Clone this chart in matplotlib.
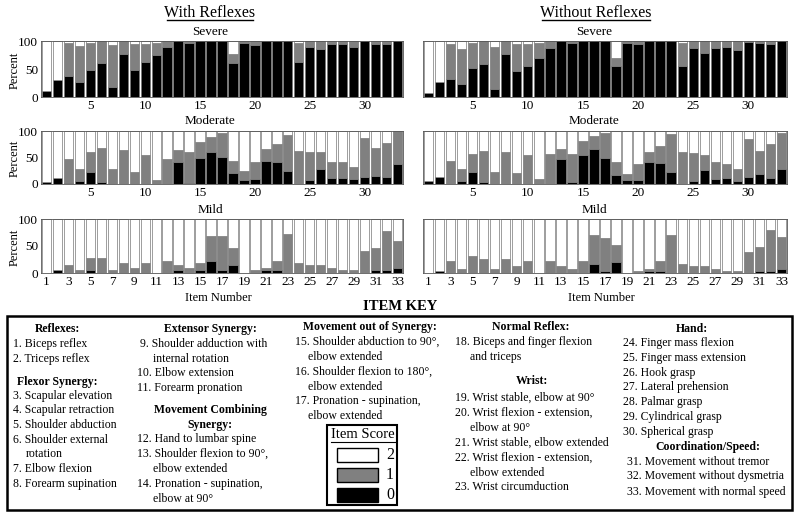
import numpy as np
import matplotlib.pyplot as plt
from matplotlib.patches import Rectangle
from matplotlib.lines import Line2D

plt.rcParams['font.family'] = ['Liberation Serif', 'DejaVu Serif']

items = np.arange(1, 34)

# percent of subjects scoring 0 (black) and 1 (gray); score 2 (white) is the rest
sev_with_0 = [11, 30, 37, 26, 49, 60, 17, 77, 49, 63, 75, 90, 100, 96, 100, 100, 100,
              61, 96, 92, 100, 100, 100, 63, 90, 86, 95, 95, 90, 100, 95, 94, 100]
sev_with_1 = [0, 0, 59, 65, 48, 40, 75, 23, 46, 32, 22, 10, 0, 4, 0, 0, 0,
              16, 4, 8, 0, 0, 0, 34, 10, 14, 5, 5, 10, 0, 5, 6, 0]
sev_wo_0 = [8, 26, 32, 23, 52, 59, 15, 77, 46, 55, 70, 87, 100, 96, 100, 100, 100,
            55, 96, 94, 100, 100, 100, 55, 88, 78, 88, 89, 84, 98, 97, 94, 100]
sev_wo_1 = [0, 0, 63, 62, 45, 41, 75, 23, 49, 40, 27, 13, 0, 4, 0, 0, 0,
            14, 4, 6, 0, 0, 0, 42, 12, 22, 12, 11, 16, 2, 3, 6, 0]

mod_with_0 = [4, 11, 1, 5, 22, 3, 0, 0, 0, 0, 0, 0, 42, 2, 50, 61, 51,
              20, 7, 9, 44, 42, 25, 0, 7, 28, 11, 11, 9, 14, 16, 14, 37]
mod_with_1 = [0, 0, 46, 24, 38, 64, 28, 64, 22, 54, 8, 48, 23, 58, 29, 27, 45,
              24, 17, 32, 22, 34, 67, 62, 53, 32, 31, 30, 23, 72, 51, 63, 63]
mod_wo_0 = [5, 14, 0, 5, 23, 3, 0, 0, 0, 0, 0, 0, 47, 3, 54, 66, 50,
            17, 8, 7, 42, 39, 23, 0, 5, 27, 10, 12, 5, 14, 18, 12, 29]
mod_wo_1 = [0, 0, 43, 24, 34, 60, 23, 61, 21, 55, 9, 57, 19, 54, 27, 24, 46,
            25, 10, 30, 19, 33, 71, 61, 54, 27, 31, 25, 23, 71, 45, 63, 67]

mild_with_0 = [0, 5, 0, 0, 5, 0, 0, 0, 0, 0, 0, 0, 5, 0, 5, 23, 5,
               14, 0, 0, 5, 5, 0, 0, 0, 0, 0, 0, 0, 0, 5, 5, 9]
mild_with_1 = [0, 0, 14, 5, 23, 28, 5, 19, 10, 19, 0, 23, 9, 10, 14, 45, 63,
               32, 0, 5, 5, 18, 73, 19, 14, 14, 10, 5, 5, 41, 41, 73, 51]
mild_wo_0 = [0, 4, 0, 0, 0, 0, 0, 0, 0, 0, 0, 0, 0, 0, 0, 17, 4,
             21, 0, 0, 4, 4, 0, 0, 0, 0, 0, 0, 0, 0, 4, 4, 8]
mild_wo_1 = [0, 0, 22, 8, 31, 26, 8, 26, 13, 22, 0, 22, 13, 8, 22, 53, 61,
             31, 0, 4, 4, 18, 70, 17, 13, 13, 8, 4, 4, 39, 44, 75, 58]

W, H = 800, 522
fig = plt.figure(figsize=(W / 100, H / 100), dpi=100)


def px(x, y):
    return x / W, 1 - y / H


def panel(left, top, right, bottom, s0, s1, ticks, ylabels):
    ax = fig.add_axes([left / W, 1 - bottom / H, (right - left) / W, (bottom - top) / H])
    s0 = np.array(s0, float)
    s1 = np.array(s1, float)
    s2 = 100 - s0 - s1
    kw = dict(width=0.85, edgecolor='#777777', linewidth=0.5)
    ax.bar(items, s0, color='black', **kw)
    ax.bar(items, s1, bottom=s0, color='#808080', **kw)
    ax.bar(items, s2, bottom=s0 + s1, color='white', **kw)
    ax.set_xlim(0.5, 33.5)
    ax.set_ylim(0, 100)
    ax.set_xticks(ticks)
    ax.set_yticks([0, 50, 100])
    ax.tick_params(length=0, labelsize=9.5, pad=2)
    if not ylabels:
        ax.set_yticklabels([])
    for sp in ax.spines.values():
        sp.set_linewidth(0.6)
        sp.set_color('#555555')
    return ax


top_ticks = [5, 10, 15, 20, 25, 30]
bot_ticks = list(range(1, 34, 2))

panel(41, 41, 403, 97, sev_with_0, sev_with_1, top_ticks, True)
panel(423, 41, 787, 97, sev_wo_0, sev_wo_1, top_ticks, False)
panel(41, 131, 403, 184, mod_with_0, mod_with_1, top_ticks, True)
panel(423, 131, 787, 184, mod_wo_0, mod_wo_1, top_ticks, False)
panel(41, 219, 403, 273, mild_with_0, mild_with_1, bot_ticks, True)
panel(423, 219, 787, 273, mild_wo_0, mild_wo_1, bot_ticks, False)

# column headings with underline
fig.text(*px(210, 13), 'With Reflexes', ha='center', va='center', fontsize=11.5)
fig.text(*px(596, 13), 'Without Reflexes', ha='center', va='center', fontsize=11.5)
for x0, x1 in [(167, 253), (542, 650)]:
    fig.add_artist(Line2D([x0 / W, x1 / W], [1 - 20 / H] * 2, color='black', lw=1))

for cx in [210, 594]:
    fig.text(*px(cx, 32), 'Severe', ha='center', va='center', fontsize=9.5)
    fig.text(*px(cx, 121), 'Moderate', ha='center', va='center', fontsize=9.5)
    fig.text(*px(cx, 210), 'Mild', ha='center', va='center', fontsize=9.5)
for y in [70, 158, 247]:
    fig.text(*px(15, y), 'Percent', ha='center', va='center', rotation=90, fontsize=9)
fig.text(*px(218, 298), 'Item Number', ha='center', va='center', fontsize=9)
fig.text(*px(601, 298), 'Item Number', ha='center', va='center', fontsize=9)

# item key
fig.text(*px(400, 307), 'ITEM KEY', ha='center', va='center', fontsize=10.5, fontweight='bold')
fig.add_artist(Rectangle(px(7, 510), 785 / W, 194 / H, transform=fig.transFigure,
                         fill=False, edgecolor='black', linewidth=1.8))

fs = 8.5
heads = [
    (57, 329, 'Reflexes:'), (57, 382, 'Flexor Synergy:'),
    (210, 329, 'Extensor Synergy:'), (210, 410, 'Movement Combining'), (210, 425, 'Synergy:'),
    (370, 327, 'Movement out of Synergy:'),
    (531, 327, 'Normal Reflex:'), (532, 381, 'Wrist:'),
    (692, 329, 'Hand:'), (708, 447, 'Coordination/Speed:'),
]
for x, y, t in heads:
    fig.text(*px(x, y), t, ha='center', va='center', fontsize=fs, fontweight='bold')

lines = [
    (13, 344, '1. Biceps reflex'), (13, 359, '2. Triceps reflex'),
    (13, 396, '3. Scapular elevation'), (13, 410, '4. Scapular retraction'),
    (13, 425, '5. Shoulder abduction'), (13, 440, '6. Shoulder external'),
    (26, 454, 'rotation'), (13, 469, '7. Elbow flexion'), (13, 484, '8. Forearm supination'),
    (140, 344, '9. Shoulder adduction with'), (153, 359, 'internal rotation'),
    (137, 373, '10. Elbow extension'), (137, 388, '11. Forearm pronation'),
    (137, 439, '12. Hand to lumbar spine'), (137, 454, '13. Shoulder flexion to 90°,'),
    (153, 469, 'elbow extended'), (137, 484, '14. Pronation - supination,'),
    (153, 499, 'elbow at 90°'),
    (295, 342, '15. Shoulder abduction to 90°,'), (308, 357, 'elbow extended'),
    (295, 372, '16. Shoulder flexion to 180°,'), (308, 387, 'elbow extended'),
    (295, 401, '17. Pronation - supination,'), (308, 416, 'elbow extended'),
    (455, 342, '18. Biceps and finger flexion'), (470, 357, 'and triceps'),
    (455, 398, '19. Wrist stable, elbow at 90°'), (455, 413, '20. Wrist flexion - extension,'),
    (470, 428, 'elbow at 90°'), (455, 443, '21. Wrist stable, elbow extended'),
    (455, 458, '22. Wrist flexion - extension,'), (470, 473, 'elbow extended'),
    (455, 487, '23. Wrist circumduction'),
    (623, 343, '24. Finger mass flexion'), (623, 358, '25. Finger mass extension'),
    (623, 373, '26. Hook grasp'), (623, 387, '27. Lateral prehension'),
    (623, 402, '28. Palmar grasp'), (623, 417, '29. Cylindrical grasp'),
    (623, 432, '30. Spherical grasp'),
    (627, 462, '31. Movement without tremor'), (627, 476, '32. Movement without dysmetria'),
    (627, 492, '33. Movement with normal speed'),
]
for x, y, t in lines:
    fig.text(*px(x, y), t, ha='left', va='center', fontsize=fs)

# item score legend
fig.add_artist(Rectangle(px(327, 505), 70 / W, 80 / H, transform=fig.transFigure,
                         fill=False, edgecolor='black', linewidth=1.5))
fig.text(*px(363, 435), 'Item Score', ha='center', va='center', fontsize=10.5)
fig.add_artist(Line2D([331 / W, 395 / W], [1 - 442 / H] * 2, color='black', lw=0.8))
for y, c, lab in [(448, 'white', '2'), (468, '#808080', '1'), (488, 'black', '0')]:
    fig.add_artist(Rectangle(px(337, y + 14), 41 / W, 14 / H, transform=fig.transFigure,
                             facecolor=c, edgecolor='black', linewidth=1))
    fig.text(*px(390, y + 7), lab, ha='center', va='center', fontsize=11.5)

fig.savefig('out.png', dpi=100)
